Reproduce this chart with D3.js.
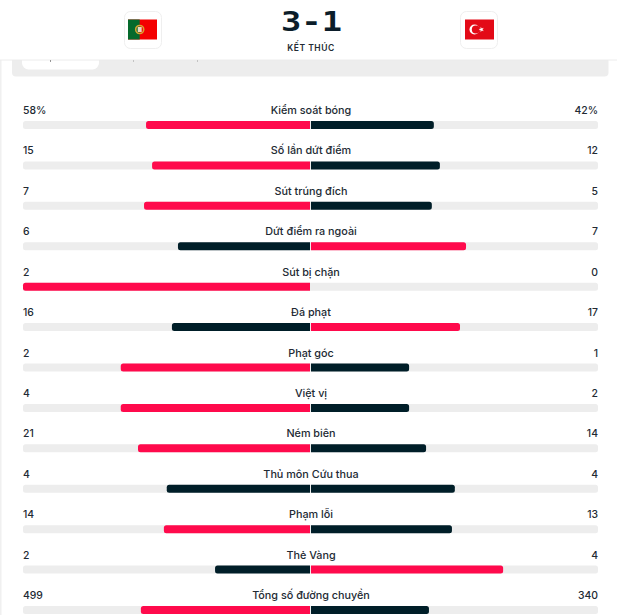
<!DOCTYPE html>
<html>
<head>
<meta charset="utf-8">
<script src="https://cdn.jsdelivr.net/npm/d3@7"></script>
<style>
    html, body { margin: 0; padding: 0; background: #fff; overflow: hidden; }
    svg { display: block; }
    text { font-family: Inter, "Noto Sans", sans-serif; }
</style>
</head>
<body>
<svg></svg>
<script>
const categories = ['Kiểm soát bóng', 'Số lần dứt điểm', 'Sút trúng đích', 'Dứt điểm ra ngoài', 'Sút bị chặn', 'Đá phạt', 'Phạt góc', 'Việt vị', 'Ném biên', 'Thủ môn Cứu thua', 'Phạm lỗi', 'Thẻ Vàng', 'Tổng số đường chuyền'];
const homeValues = ['58%', '15', '7', '6', '2', '16', '2', '4', '21', '4', '14', '2', '499'];
const awayValues = ['42%', '12', '5', '7', '0', '17', '1', '2', '14', '4', '13', '4', '340'];
// bar share of the half track (not exactly value / total on the site)
const homeShare = [57.2, 55.1, 57.9, 46.1, 100, 48.2, 66, 66, 60, 50, 51, 33.2, 59];
const awayShare = [42.9, 45, 42.2, 54.1, 0, 52, 34.3, 34.3, 40.2, 50.2, 49.2, 67, 41.2];
const score = '3 - 1';
const matchStatus = 'KẾT THÚC';

const RED = '#ff0a4c', DARK = '#001e28', TRACK = '#ededed', INK = '#222a33';

const svg = d3.select('svg').attr('width', 617).attr('height', 615);

const left = 23, right = 598, center = 310.5, barHeight = 8;

const y = d3.scalePoint().domain(categories).range([121, 606]);
const share = d3.scaleLinear().domain([0, 100]).range([0, center - left]);

// bar with only the two outer corners rounded
function barPath(x0, x1, top, side) {
    const r = 2.5, h = barHeight, p = d3.path();
    if (side < 0) {
        p.moveTo(x1, top);
        p.lineTo(x0 + r, top);
        p.arcTo(x0, top, x0, top + r, r);
        p.lineTo(x0, top + h - r);
        p.arcTo(x0, top + h, x0 + r, top + h, r);
        p.lineTo(x1, top + h);
    } else {
        p.moveTo(x0, top);
        p.lineTo(x1 - r, top);
        p.arcTo(x1, top, x1, top + r, r);
        p.lineTo(x1, top + h - r);
        p.arcTo(x1, top + h, x1 - r, top + h, r);
        p.lineTo(x0, top + h);
    }
    p.closePath();
    return p.toString();
}

/* Header with score and flags */
const header = svg.append('g');

header.append('rect').attr('x', 0).attr('y', 60).attr('width', 1.5).attr('height', 555).attr('fill', '#f0f0f0');
header.append('path').attr('fill', TRACK)
    .attr('d', 'M12,60H608.5V72.5a4,4 0 0 1 -4,4H16a4,4 0 0 1 -4,-4Z');
header.append('path').attr('fill', '#fff')
    .attr('d', 'M22,60H99V63a6.5,6.5 0 0 1 -6.5,6.5H28.5a6.5,6.5 0 0 1 -6.5,-6.5Z');
header.append('line').attr('x1', 0).attr('x2', 617).attr('y1', 60).attr('y2', 60)
    .attr('stroke', '#ececec').attr('stroke-width', 1);

// cut off tab labels under the header line
[[50, '#333'], [133, '#999'], [197, '#999']].forEach(d => {
    header.append('rect').attr('x', d[0]).attr('y', 60.5).attr('width', 1).attr('height', 1).attr('fill', d[1]);
});

[124.5, 460.5].forEach(x => {
    header.append('rect').attr('x', x).attr('y', 11.5).attr('width', 37).attr('height', 37).attr('rx', 6)
        .attr('fill', '#fff').attr('stroke', '#efefef');
});

// Portugal
header.append('rect').attr('x', 128).attr('y', 19.5).attr('width', 29).attr('height', 20).attr('fill', '#f40000');
header.append('rect').attr('x', 128).attr('y', 19.5).attr('width', 11.7).attr('height', 20).attr('fill', '#056a2c');
header.append('circle').attr('cx', 139.7).attr('cy', 29.5).attr('r', 4).attr('fill', 'none').attr('stroke', '#d8a430').attr('stroke-width', 1.6);
header.append('rect').attr('x', 137.7).attr('y', 27).attr('width', 4).attr('height', 5).attr('fill', '#e8d8c8');

// Turkey
header.append('rect').attr('x', 465).attr('y', 19.5).attr('width', 29).attr('height', 20).attr('fill', '#e30a17');
header.append('circle').attr('cx', 474.5).attr('cy', 29.5).attr('r', 5).attr('fill', '#fff');
header.append('circle').attr('cx', 475.8).attr('cy', 29.5).attr('r', 4).attr('fill', '#e30a17');
header.append('path').attr('transform', 'translate(481.5,29.5) rotate(-90)').attr('fill', '#fff')
    .attr('d', d3.symbol(d3.symbolStar, 9)());

// no squared score font here, so stretch the mono one a bit
header.append('text').attr('transform', 'translate(311.5,31) scale(1.25,1)').attr('text-anchor', 'middle')
    .style('font-family', '"DejaVu Sans Mono", monospace').style('font-weight', 700)
    .style('font-size', '27px').style('word-spacing', '-16.25px').attr('fill', '#0b1d2a')
    .text(score);

header.append('text').attr('x', 311).attr('y', 51).attr('text-anchor', 'middle')
    .style('font-size', '8.5px').style('font-weight', 600).style('letter-spacing', '0.5px')
    .attr('fill', INK).text(matchStatus);

/* One row for each stat */
const rows = svg.append('g').selectAll('g')
    .data(categories)
    .enter().append('g');

rows.append('rect')
    .attr('x', left)
    .attr('y', d => y(d))
    .attr('width', right - left)
    .attr('height', barHeight)
    .attr('rx', 2.5)
    .attr('fill', TRACK);

rows.append('path')
    .attr('d', (d, i) => barPath(center - share(homeShare[i]), center - 0.5, y(d), -1))
    .attr('fill', (d, i) => parseFloat(homeValues[i]) > parseFloat(awayValues[i]) ? RED : DARK);

// the away side of a blocked-shots 0 has no bar
rows.filter((d, i) => awayShare[i] > 0).append('path')
    .attr('d', d => barPath(center + 0.5, center + share(awayShare[categories.indexOf(d)]), y(d), 1))
    .attr('fill', d => {
        const i = categories.indexOf(d);
        return parseFloat(awayValues[i]) > parseFloat(homeValues[i]) ? RED : DARK;
    });

rows.append('text')
    .attr('x', 311)
    .attr('y', d => y(d) - 7)
    .attr('text-anchor', 'middle')
    .style('font-size', '10.8px')
    .style('font-weight', 500)
    .attr('fill', INK)
    .text(d => d);

rows.append('text')
    .attr('x', left)
    .attr('y', d => y(d) - 7)
    .style('font-size', '10.4px')
    .style('font-weight', 500)
    .attr('fill', INK)
    .text((d, i) => homeValues[i]);

rows.append('text')
    .attr('x', right)
    .attr('y', d => y(d) - 7)
    .attr('text-anchor', 'end')
    .style('font-size', '10.4px')
    .style('font-weight', 500)
    .attr('fill', INK)
    .text((d, i) => awayValues[i]);
</script>
</body>
</html>
